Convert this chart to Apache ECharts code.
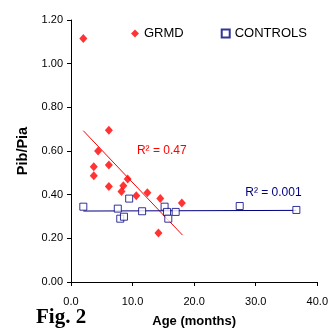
<!DOCTYPE html>
<html>
<head>
<meta charset="utf-8">
<script src="https://cdn.jsdelivr.net/npm/echarts@6/dist/echarts.min.js"></script>
<style>html,body{margin:0;padding:0;background:#fff;}#c{width:331px;height:334px;}</style>
</head>
<body>
<div id="c"></div>
<script>
// GRMD (age in months, Pib/Pia)
var grmdAge = [2.0, 6.15, 4.4, 3.7, 6.15, 3.7, 6.15, 9.2, 8.5, 8.2, 10.6, 12.4, 14.5, 18.0, 14.2];
var grmdRatio = [1.115, 0.695, 0.600, 0.528, 0.536, 0.487, 0.437, 0.472, 0.441, 0.414, 0.395, 0.409, 0.382, 0.362, 0.224];
// CONTROLS
var ctrlAge = [2.0, 7.6, 8.0, 8.6, 9.45, 11.55, 15.2, 15.6, 15.8, 17.0, 27.4, 36.6];
var ctrlRatio = [0.345, 0.336, 0.290, 0.299, 0.382, 0.324, 0.345, 0.321, 0.290, 0.321, 0.348, 0.330];
// Trendline endpoints
var grmdTrendAge = [2.0, 18.1];
var grmdTrendRatio = [0.693, 0.215];
var ctrlTrendAge = [2.0, 36.6];
var ctrlTrendRatio = [0.325, 0.328];
var yTicks = [0, 0.2, 0.4, 0.6, 0.8, 1.0, 1.2];
var xTicks = [0, 10, 20, 30, 40];

function zip(a, b) { return a.map(function (v, i) { return [v, b[i]]; }); }

var chart = echarts.init(document.getElementById('c'), null, {renderer: 'canvas'});
var font = 'Liberation Sans, Arial, sans-serif';
chart.setOption({
  animation: false,
  backgroundColor: '#fff',
  grid: {left: 71, right: 13, top: 20, bottom: 52},
  legend: {
    data: ['GRMD', 'CONTROLS'],
    left: 126, top: 22,
    itemWidth: 8, itemHeight: 8, itemGap: 37,
    textStyle: {fontFamily: font, fontSize: 13, color: '#000'}
  },
  xAxis: {
    type: 'value', min: xTicks[0], max: xTicks[xTicks.length - 1], interval: 10,
    name: 'Age (months)', nameLocation: 'middle', nameGap: 33,
    nameTextStyle: {fontFamily: font, fontSize: 13, fontWeight: 'bold', color: '#000'},
    axisLine: {show: true, lineStyle: {color: '#000', width: 1}},
    axisTick: {show: true, length: 4, lineStyle: {color: '#000'}},
    axisLabel: {margin: 14, fontFamily: font, fontSize: 11, color: '#000',
      formatter: function (v) { return v.toFixed(1); }},
    splitLine: {show: false}
  },
  yAxis: {
    type: 'value', min: yTicks[0], max: yTicks[yTicks.length - 1], interval: 0.2,
    name: 'Pib/Pia', nameLocation: 'middle', nameGap: 36,
    nameTextStyle: {fontFamily: font, fontSize: 14.5, fontWeight: 'bold', color: '#000'},
    axisLine: {show: true, lineStyle: {color: '#000', width: 1}},
    axisTick: {show: true, length: 4, lineStyle: {color: '#000'}},
    axisLabel: {margin: 8, fontFamily: font, fontSize: 11, color: '#000',
      formatter: function (v) { return v.toFixed(2); }},
    splitLine: {show: false}
  },
  series: [
    {
      name: 'GRMD trend', type: 'line', data: zip(grmdTrendAge, grmdTrendRatio),
      symbol: 'none', lineStyle: {color: '#ff0000', width: 1}, z: 1, silent: true,
      markPoint: {
        symbol: 'circle', symbolSize: 0,
        data: [{coord: [10.7, 0.60], value: 'R2',
          label: {show: true, position: 'right', distance: 0,
            formatter: 'R\u00b2 = 0.47',
            fontFamily: font, fontSize: 12, color: '#ff0000'}}]
      }
    },
    {
      name: 'CONTROLS trend', type: 'line', data: zip(ctrlTrendAge, ctrlTrendRatio),
      symbol: 'none', lineStyle: {color: '#000080', width: 1}, z: 1, silent: true,
      markPoint: {
        symbol: 'circle', symbolSize: 0,
        data: [{coord: [28.3, 0.41], value: 'R2',
          label: {show: true, position: 'right', distance: 0,
            formatter: 'R\u00b2 = 0.001',
            fontFamily: font, fontSize: 12, color: '#000080'}}]
      }
    },
    {
      name: 'GRMD', type: 'scatter', data: zip(grmdAge, grmdRatio),
      symbol: 'diamond', symbolSize: [8, 9],
      itemStyle: {color: '#ff0000'}, z: 3
    },
    {
      name: 'CONTROLS', type: 'scatter', data: zip(ctrlAge, ctrlRatio),
      symbol: 'rect', symbolSize: 7,
      itemStyle: {color: '#ffffff', borderColor: '#000080', borderWidth: 1}, z: 2
    }
  ],
  graphic: [
    {type: 'text', left: 36, top: 307,
      style: {text: 'Fig. 2', font: 'bold 21px "Liberation Serif", "Times New Roman", serif', fill: '#000'}}
  ]
});
</script>
</body>
</html>
